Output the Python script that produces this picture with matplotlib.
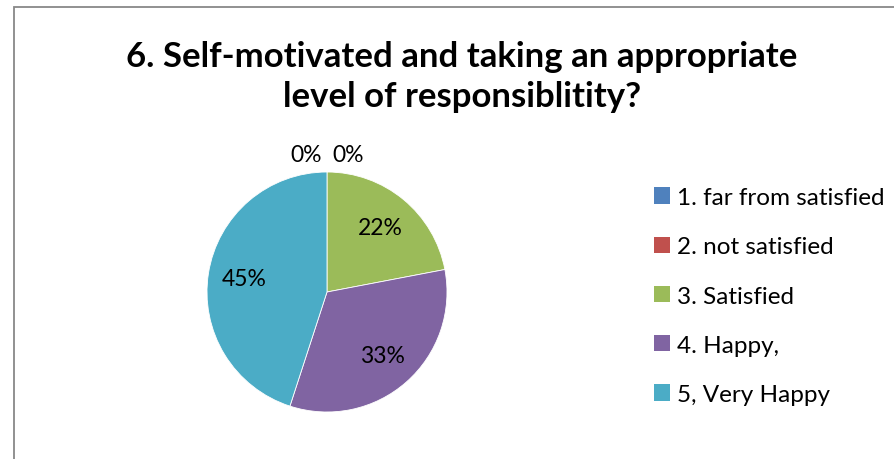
import matplotlib
matplotlib.use("Agg")
import matplotlib.pyplot as plt
import numpy as np
from matplotlib.patches import Rectangle, Patch

plt.rcParams['font.family'] = ['Lato', 'DejaVu Sans']

title = "6. Self-motivated and taking an appropriate\nlevel of responsiblitity?"
categories = ["1. far from satisfied", "2. not satisfied", "3. Satisfied",
              "4. Happy,", "5, Very Happy"]
shares = [0, 0, 22, 33, 45]
colors = ["#4F81BD", "#C0504D", "#9BBB59", "#8064A2", "#4BACC6"]

W, H = 895, 460
fig = plt.figure(figsize=(W / 100, H / 100), dpi=100)

# chart area border
fig.patches.append(Rectangle((14 / W, -0.1), 1.2, (H - 8) / H + 0.1,
                             transform=fig.transFigure, fill=False,
                             edgecolor="#888888", linewidth=1.3))

fig.text(462 / W, 1 - 77 / H, title, ha="center", va="center",
         fontsize=25, fontweight="bold", linespacing=1.32)

cx, cy, r = 327, 293, 120
ax = fig.add_axes([(cx - r) / W, (H - cy - r) / H, 2 * r / W, 2 * r / H])
wedges, _ = ax.pie(shares, colors=colors, startangle=90, counterclock=False,
                   radius=1, wedgeprops=dict(edgecolor="white", linewidth=0.6))
ax.set_xlim(-1, 1)
ax.set_ylim(-1, 1)
ax.set_aspect("equal")
ax.axis("off")

# percentage labels
zero_offsets = [-0.175, 0.175]
zi = 0
for w, v in zip(wedges, shares):
    mid = np.deg2rad((w.theta1 + w.theta2) / 2)
    if v == 0:
        x = np.cos(mid) + zero_offsets[zi]
        y = 1.15
        zi += 1
    else:
        x, y = 0.7 * np.cos(mid), 0.7 * np.sin(mid)
    ax.text(x, y, f"{v}%", ha="center", va="center", fontsize=16.5,
            color="black", clip_on=False)

handles = [Patch(facecolor=c, edgecolor="none") for c in colors]
fig.legend(handles, categories, loc="upper left",
           bbox_to_anchor=(642 / W, 1 - 176 / H), frameon=False,
           fontsize=17.5, handlelength=0.66, handleheight=0.66,
           handletextpad=0.3, labelspacing=1.16, borderpad=0)

fig.savefig("out.png", dpi=100)
